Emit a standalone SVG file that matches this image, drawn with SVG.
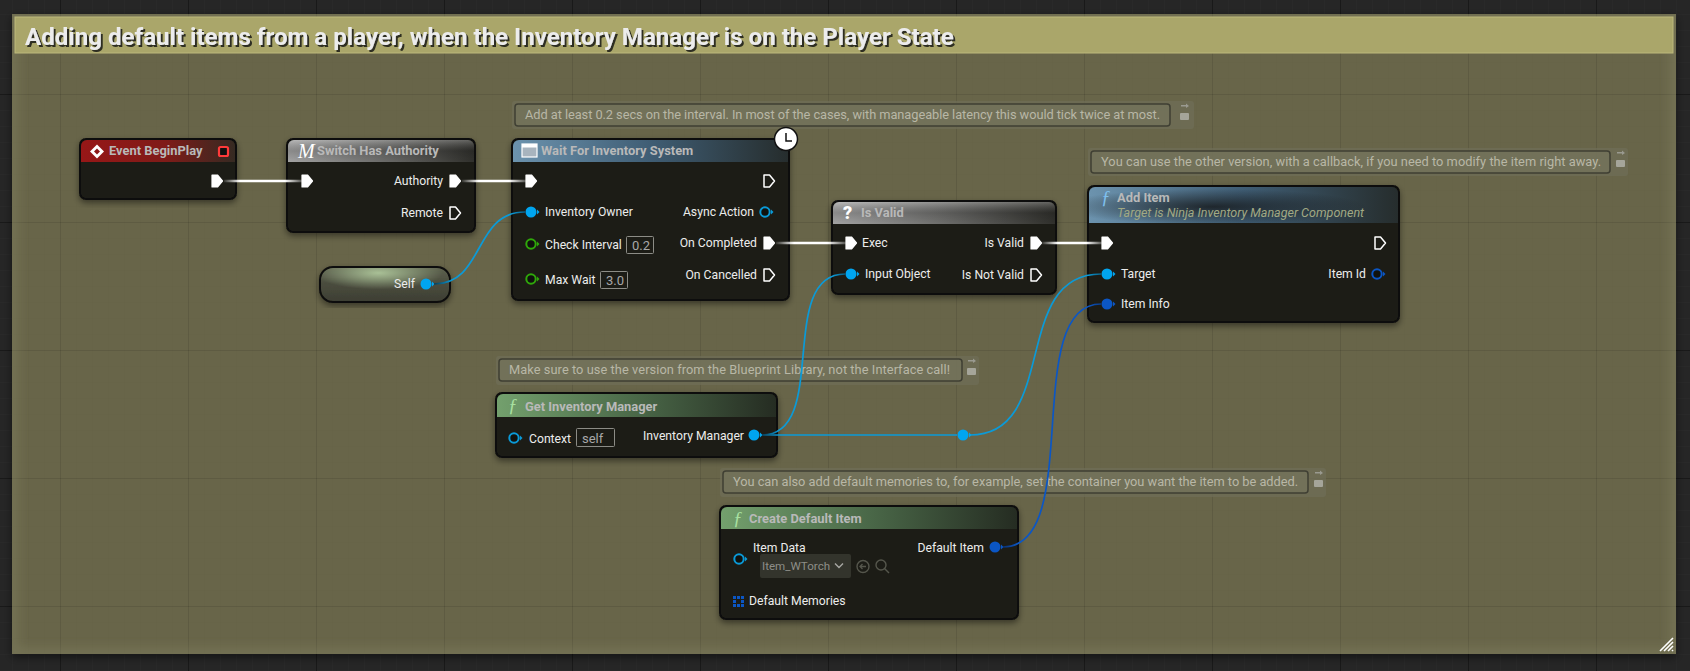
<svg xmlns="http://www.w3.org/2000/svg" width="1690" height="671" viewBox="0 0 1690 671">
<style>
text{font-family:Roboto,"Liberation Sans",sans-serif;font-size:12.2px;fill:#ececec}
.t{font-weight:700;font-size:12.9px;fill:#b9b9b9}
.r{text-anchor:end}
.c{font-size:12.8px;fill:#b8b7a6}
.v{font-size:13px;fill:#a8a8a8}
.f{font-family:"Liberation Serif",serif;font-style:italic;font-size:19px}
.body{fill:#1d1e18;stroke:#0c0c0a;stroke-width:2;filter:url(#sh)}
.hd{stroke:none}
.box{fill:none;stroke:#8c8c86;stroke-width:1}
.bub{fill:#77765e;fill-opacity:.55;stroke:#3f3f33;stroke-width:1.5}
.halo{fill:#6f6e58;fill-opacity:.7}
.w{fill:none;stroke-width:1.7}
.ew{fill:none;stroke-width:2.4}
.x{fill:#fff;stroke:#fff;stroke-width:1.2;stroke-linejoin:round}
.xo{fill:none;stroke:#fff;stroke-width:1.5;stroke-linejoin:round}
</style>
<defs>
<pattern id="minor" patternUnits="userSpaceOnUse" x="12" y="14" width="16" height="16"><path d="M0 0V16M0 0H16" stroke="#2b2b2b" fill="none"/></pattern>
<pattern id="major" patternUnits="userSpaceOnUse" x="60" y="94" width="128" height="128"><path d="M0.5 0V128M0 0.5H128" stroke="#191919" fill="none"/></pattern>
<pattern id="minorC" patternUnits="userSpaceOnUse" x="12" y="14" width="16" height="16"><path d="M0 0V16M0 0H16" stroke="#000" stroke-opacity=".02" fill="none"/></pattern>
<pattern id="majorC" patternUnits="userSpaceOnUse" x="60" y="94" width="128" height="128"><path d="M0.5 0V128M0 0.5H128" stroke="#000" stroke-opacity=".09" fill="none"/></pattern>
<filter id="sh" x="-10%" y="-10%" width="120%" height="125%"><feDropShadow dx="0" dy="3" stdDeviation="3" flood-color="#000" flood-opacity=".45"/></filter>
<filter id="csh" x="-2%" y="-3%" width="104%" height="106%"><feDropShadow dx="0" dy="3" stdDeviation="4" flood-color="#000" flood-opacity=".5"/></filter>
<filter id="ts" x="-2%" y="-20%" width="104%" height="150%"><feDropShadow dx="2" dy="2" stdDeviation=".4" flood-color="#2e2e22" flood-opacity="1"/></filter>
<filter id="bl" x="-5%" y="-5%" width="110%" height="110%"><feGaussianBlur stdDeviation="6"/></filter>
<clipPath id="cc"><rect x="12" y="14" width="1664" height="640"/></clipPath>
<linearGradient id="red" x1="0" x2="1" y1="0" y2="0"><stop offset="0" stop-color="#971717"/><stop offset=".55" stop-color="#7f1b18"/><stop offset="1" stop-color="#352a22"/></linearGradient>
<linearGradient id="gry" x1="0" x2="1" y1="0" y2="0"><stop offset="0" stop-color="#a3a3a3"/><stop offset=".5" stop-color="#6d6d6b"/><stop offset="1" stop-color="#30302c"/></linearGradient>
<linearGradient id="blu" x1="0" x2="1" y1="0" y2="0"><stop offset="0" stop-color="#6c93ae"/><stop offset=".5" stop-color="#3f5d74"/><stop offset="1" stop-color="#262d2d"/></linearGradient>
<linearGradient id="grn" x1="0" x2="1" y1="0" y2="0"><stop offset="0" stop-color="#73a06d"/><stop offset=".5" stop-color="#4a6848"/><stop offset="1" stop-color="#252c22"/></linearGradient>
<linearGradient id="top" x1="0" x2="0" y1="0" y2="1"><stop offset="0" stop-color="#fff" stop-opacity=".25"/><stop offset=".5" stop-color="#000" stop-opacity=".15"/><stop offset="1" stop-color="#000" stop-opacity="0"/></linearGradient>
<linearGradient id="selfg" x1="0" x2="0" y1="0" y2="1"><stop offset="0" stop-color="#5f6350"/><stop offset=".45" stop-color="#4b4d3e"/><stop offset="1" stop-color="#3d3e33"/></linearGradient>
<radialGradient id="selfh" cx=".45" cy=".15" r=".5"><stop offset="0" stop-color="#a9c096"/><stop offset="1" stop-color="#a9c096" stop-opacity="0"/></radialGradient>
<radialGradient id="dk" cx=".4" cy=".55" r=".5"><stop offset="0" stop-color="#111" stop-opacity=".75"/><stop offset="1" stop-color="#111" stop-opacity="0"/></radialGradient>
<linearGradient id="e1" gradientUnits="userSpaceOnUse" x1="224" x2="305" y1="0" y2="0"><stop offset="0" stop-color="#fff" stop-opacity=".1"/><stop offset=".2" stop-color="#fff"/><stop offset=".75" stop-color="#fff"/><stop offset="1" stop-color="#fff" stop-opacity=".1"/></linearGradient>
<linearGradient id="e2" gradientUnits="userSpaceOnUse" x1="462" x2="529" y1="0" y2="0"><stop offset="0" stop-color="#fff" stop-opacity=".1"/><stop offset=".25" stop-color="#fff"/><stop offset=".7" stop-color="#fff"/><stop offset="1" stop-color="#fff" stop-opacity=".1"/></linearGradient>
<linearGradient id="e3" gradientUnits="userSpaceOnUse" x1="776" x2="849" y1="0" y2="0"><stop offset="0" stop-color="#fff" stop-opacity=".1"/><stop offset=".25" stop-color="#fff"/><stop offset=".7" stop-color="#fff"/><stop offset="1" stop-color="#fff" stop-opacity=".1"/></linearGradient>
<linearGradient id="e4" gradientUnits="userSpaceOnUse" x1="1042" x2="1105" y1="0" y2="0"><stop offset="0" stop-color="#fff" stop-opacity=".1"/><stop offset=".25" stop-color="#fff"/><stop offset=".7" stop-color="#fff"/><stop offset="1" stop-color="#fff" stop-opacity=".1"/></linearGradient>
<linearGradient id="b1" gradientUnits="userSpaceOnUse" x1="434" x2="525" y1="0" y2="0"><stop offset="0" stop-color="#0a3d55"/><stop offset=".2" stop-color="#0a9ad8"/><stop offset=".85" stop-color="#0a9ad8"/><stop offset="1" stop-color="#0a5f85"/></linearGradient>
<linearGradient id="b2" gradientUnits="userSpaceOnUse" x1="762" x2="845" y1="0" y2="0"><stop offset="0" stop-color="#0a3d55"/><stop offset=".2" stop-color="#0a9ad8"/><stop offset=".85" stop-color="#0a9ad8"/><stop offset="1" stop-color="#0a5f85"/></linearGradient>
<linearGradient id="b3" gradientUnits="userSpaceOnUse" x1="762" x2="957" y1="0" y2="0"><stop offset="0" stop-color="#0a3d55"/><stop offset=".08" stop-color="#0a9ad8"/><stop offset="1" stop-color="#0a9ad8"/></linearGradient>
<linearGradient id="b4" gradientUnits="userSpaceOnUse" x1="970" x2="1101" y1="0" y2="0"><stop offset="0" stop-color="#0a9ad8"/><stop offset=".9" stop-color="#0a9ad8"/><stop offset="1" stop-color="#0a5f85"/></linearGradient>
<linearGradient id="d1" gradientUnits="userSpaceOnUse" x1="1003" x2="1101" y1="0" y2="0"><stop offset="0" stop-color="#0a3070"/><stop offset=".15" stop-color="#0b56c4"/><stop offset=".88" stop-color="#0b56c4"/><stop offset="1" stop-color="#0a3a85"/></linearGradient>
<g id="ex"><path class="x" d="M-5 -6H0.500L5.500 0L0.500 6H-5Z"/></g>
<g id="exo"><path class="xo" d="M-5 -6H0.500L5.500 0L0.500 6H-5Z"/></g>
<g id="pb"><circle r="5.500" fill="#00a5f0"/><path d="M6 -2.500L8.500 0L6 2.500Z" fill="#00a5f0"/></g>
<g id="pbo"><circle r="4.700" fill="#10120e" stroke="#0a9ad8" stroke-width="2"/><path d="M6 -2.500L8.500 0L6 2.500Z" fill="#0a9ad8"/></g>
<g id="pd"><circle r="5.500" fill="#0b56c4"/><path d="M6 -2.500L8.500 0L6 2.500Z" fill="#0b56c4"/></g>
<g id="pdo"><circle r="4.700" fill="#10120e" stroke="#0b56c4" stroke-width="2"/><path d="M6 -2.500L8.500 0L6 2.500Z" fill="#0b56c4"/></g>
<g id="pg"><circle r="4.700" fill="#10120e" stroke="#2fa80a" stroke-width="2"/><path d="M6 -2.500L8.500 0L6 2.500Z" fill="#2fa80a"/></g>
<g id="pinic"><path d="M-3 -4H2V-5.500L5 -3L2 -1V-2.500H-3Z" fill="#9a9a90"/><rect x="-4" y="4" width="9" height="7" rx="1" fill="#a5a59a"/></g>
</defs>

<rect width="1690" height="671" fill="#262626"/>
<rect width="1690" height="671" fill="url(#minor)"/>
<rect width="1690" height="671" fill="url(#major)"/>

<g id="comment-frame">
<rect x="12" y="14" width="1664" height="640" fill="#676549" filter="url(#csh)"/>
<rect x="12" y="14" width="1664" height="640" fill="url(#minorC)"/>
<rect x="12" y="14" width="1664" height="640" fill="url(#majorC)"/>
<g clip-path="url(#cc)"><rect x="12" y="14" width="1664" height="640" fill="none" stroke="#8a8a68" stroke-opacity=".45" stroke-width="10" filter="url(#bl)"/></g>
<rect x="15" y="17" width="1658" height="36" fill="#aaa66a" stroke="#bdb97c" stroke-width="1"/>
<text x="25" y="45" filter="url(#ts)" style="font-size:24.1px;font-weight:700;fill:#ececec">Adding default items from a player, when the Inventory Manager is on the Player State</text>
<path d="M1660 651L1673 638M1664 651L1673 642M1668 651L1673 646M1672 651L1673 650" stroke="#fff" stroke-width="1.600" fill="none"/>
</g>

<g id="bubble-1">
<rect class="halo" x="512" y="101" width="682" height="28" rx="3"/>
<rect class="bub" x="515" y="104" width="655" height="22" rx="3"/>
<text class="c" x="525" y="119" textLength="635">Add at least 0.2 secs on the interval. In most of the cases, with manageable latency this would tick twice at most.</text>
<use href="#pinic" x="1184" y="109"/>
</g>
<g id="bubble-2">
<rect class="halo" x="1088" y="148" width="540" height="28" rx="3"/>
<rect class="bub" x="1091" y="151" width="519" height="22" rx="3"/>
<text class="c" x="1101" y="166" textLength="500">You can use the other version, with a callback, if you need to modify the item right away.</text>
<use href="#pinic" x="1620" y="156"/>
</g>
<g id="bubble-3">
<rect class="halo" x="496" y="356" width="483" height="29" rx="3"/>
<rect class="bub" x="499" y="359" width="463" height="22" rx="3"/>
<text class="c" x="509" y="374" textLength="441">Make sure to use the version from the Blueprint Library, not the Interface call!</text>
<use href="#pinic" x="971" y="364"/>
</g>
<g id="bubble-4">
<rect class="halo" x="720" y="468" width="606" height="29" rx="3"/>
<rect class="bub" x="723" y="471" width="585" height="22" rx="3"/>
<text class="c" x="733" y="486" textLength="565">You can also add default memories to, for example, set the container you want the item to be added.</text>
<use href="#pinic" x="1318" y="476"/>
</g>

<g id="node-event">
<rect class="body" x="80" y="139" width="156" height="60" rx="6"/>
<path class="hd" d="M81 162V146a6 6 0 0 1 6-6H229a6 6 0 0 1 6 6V162Z" fill="url(#red)"/>
<path d="M97 144.500L104 151.500L97 158.500L90 151.500Z" fill="#fff"/>
<path d="M97 148.500L100 151.500L97 154.500L94 151.500Z" fill="#8c1717"/>
<text class="t" x="109" y="155">Event BeginPlay</text>
<rect x="219" y="147" width="9" height="9" rx="1.500" fill="#111" stroke="#ff3a3a" stroke-width="2.200"/>
<use href="#ex" x="217" y="181"/>
</g>

<g id="node-switch">
<rect class="body" x="287" y="139" width="188" height="93" rx="6"/>
<path class="hd" d="M288 162V146a6 6 0 0 1 6-6H468a6 6 0 0 1 6 6V162Z" fill="url(#gry)"/>
<path class="hd" d="M288 162V146a6 6 0 0 1 6-6H468a6 6 0 0 1 6 6V162Z" fill="url(#top)"/>
<text class="f" x="298" y="158" style="font-size:20px;fill:#fff">M</text>
<text class="t" x="317" y="155">Switch Has Authority</text>
<use href="#ex" x="307" y="181"/>
<text class="r" x="443" y="185">Authority</text>
<use href="#ex" x="455" y="181"/>
<text class="r" x="443" y="217">Remote</text>
<use href="#exo" x="455" y="213"/>
</g>

<g id="node-self">
<rect x="320" y="267" width="130" height="35" rx="13" fill="url(#selfg)" stroke="#0c0c0a" stroke-width="2" filter="url(#sh)"/>
<rect x="321" y="268" width="128" height="33" rx="12" fill="url(#selfh)"/>
<text class="r" x="415" y="288">Self</text>
<use href="#pb" x="426" y="284"/>
</g>

<g id="node-wait">
<rect class="body" x="512" y="139" width="277" height="161" rx="6"/>
<path class="hd" d="M513 162V146a6 6 0 0 1 6-6H782a6 6 0 0 1 6 6V162Z" fill="url(#blu)"/>
<rect x="522" y="144" width="15" height="13" fill="#a8b4be" stroke="#fff" stroke-width="1.200"/>
<rect x="522" y="144" width="15" height="3.500" fill="#fff"/>
<text class="t" x="541" y="155">Wait For Inventory System</text>
<circle cx="786" cy="139" r="11.500" fill="#fff" stroke="#111" stroke-width="1.500"/>
<path d="M786 133V141H792" fill="none" stroke="#111" stroke-width="1.500"/>
<use href="#ex" x="531" y="181"/>
<use href="#exo" x="769" y="181"/>
<use href="#pb" x="531" y="212"/>
<text x="545" y="216">Inventory Owner</text>
<use href="#pg" x="531" y="244"/>
<text x="545" y="249">Check Interval</text>
<rect class="box" x="626.500" y="236.500" width="27" height="17" rx="1"/>
<text class="v" x="632" y="250">0.2</text>
<use href="#pg" x="531" y="279"/>
<text x="545" y="284">Max Wait</text>
<rect class="box" x="600.500" y="271.500" width="27" height="17" rx="1"/>
<text class="v" x="606" y="285">3.0</text>
<text class="r" x="754" y="216">Async Action</text>
<use href="#pbo" x="765" y="212"/>
<text class="r" x="757" y="247">On Completed</text>
<use href="#ex" x="769" y="243"/>
<text class="r" x="757" y="279">On Cancelled</text>
<use href="#exo" x="769" y="275"/>
</g>

<g id="node-isvalid">
<rect class="body" x="832" y="201" width="224" height="93" rx="6"/>
<path class="hd" d="M833 224V208a6 6 0 0 1 6-6H1049a6 6 0 0 1 6 6V224Z" fill="url(#gry)"/>
<path class="hd" d="M833 224V208a6 6 0 0 1 6-6H1049a6 6 0 0 1 6 6V224Z" fill="url(#top)"/>
<text x="843" y="219" style="font-size:18px;font-weight:900;fill:#fff">?</text>
<text class="t" x="861" y="217">Is Valid</text>
<use href="#ex" x="851" y="243"/>
<text x="862" y="247">Exec</text>
<use href="#pb" x="851" y="274"/>
<text x="865" y="278">Input Object</text>
<text class="r" x="1024" y="247">Is Valid</text>
<use href="#ex" x="1036" y="243"/>
<text class="r" x="1024" y="279">Is Not Valid</text>
<use href="#exo" x="1036" y="275"/>
</g>

<g id="node-additem">
<rect class="body" x="1088" y="186" width="311" height="136" rx="6"/>
<path class="hd" d="M1089 223V193a6 6 0 0 1 6-6H1392a6 6 0 0 1 6 6V223Z" fill="url(#blu)"/>
<path class="hd" d="M1089 223V193a6 6 0 0 1 6-6H1392a6 6 0 0 1 6 6V223Z" fill="url(#dk)"/>
<text class="f" x="1101" y="204" style="fill:#7fc0ee">ƒ</text>
<text class="t" x="1117" y="202">Add Item</text>
<text x="1117" y="217" style="font-style:italic;font-size:12.5px;fill:#a1a984">Target is Ninja Inventory Manager Component</text>
<use href="#ex" x="1107" y="243"/>
<use href="#exo" x="1380" y="243"/>
<use href="#pb" x="1107" y="274"/>
<text x="1121" y="278">Target</text>
<use href="#pd" x="1107" y="304"/>
<text x="1121" y="308">Item Info</text>
<text class="r" x="1366" y="278">Item Id</text>
<use href="#pdo" x="1377" y="274"/>
</g>

<g id="node-getinv">
<rect class="body" x="496" y="393" width="281" height="64" rx="6"/>
<path class="hd" d="M497 417V400a6 6 0 0 1 6-6H770a6 6 0 0 1 6 6V417Z" fill="url(#grn)"/>
<text class="f" x="508" y="412" style="fill:#a8e0a0">ƒ</text>
<text class="t" x="525" y="411">Get Inventory Manager</text>
<use href="#pbo" x="514" y="438"/>
<text x="529" y="443">Context</text>
<rect class="box" x="576.500" y="428.500" width="38" height="18" rx="1"/>
<text class="v" x="582" y="443">self</text>
<text class="r" x="744" y="440">Inventory Manager</text>
<use href="#pb" x="754" y="435"/>
</g>

<g id="node-create">
<rect class="body" x="720" y="506" width="298" height="113" rx="6"/>
<path class="hd" d="M721 529V513a6 6 0 0 1 6-6H1011a6 6 0 0 1 6 6V529Z" fill="url(#grn)"/>
<text class="f" x="733" y="525" style="fill:#a8e0a0">ƒ</text>
<text class="t" x="749" y="523">Create Default Item</text>
<use href="#pbo" x="739" y="559"/>
<text x="753" y="552">Item Data</text>
<rect x="760" y="554" width="91" height="24" rx="2" fill="#33342c"/>
<text x="762" y="570" style="font-size:11.6px;fill:#8e8e88">Item_WTorch</text>
<path d="M835 563.500L839 567.500L843 563.500" fill="none" stroke="#a8a8a4" stroke-width="1.400"/>
<circle cx="863" cy="566.500" r="6" fill="none" stroke="#55564c" stroke-width="1.400"/>
<path d="M866 566.500H860M862.500 564L860 566.500L862.500 569" fill="none" stroke="#55564c" stroke-width="1.300"/>
<circle cx="881" cy="565" r="5" fill="none" stroke="#55564c" stroke-width="1.400"/>
<path d="M884.500 568.500L889 573" stroke="#55564c" stroke-width="1.400"/>
<text class="r" x="984" y="552">Default Item</text>
<use href="#pd" x="995" y="547"/>
<path d="M733 596h3v3h-3zM737 596h3v3h-3zM741 596h3v3h-3zM733 600h3v3h-3zM741 600h3v3h-3zM733 604h3v3h-3zM737 604h3v3h-3zM741 604h3v3h-3z" fill="#0b56c4"/>
<text x="749" y="605">Default Memories</text>
</g>

<g id="connectors">
<path class="ew" stroke="url(#e1)" d="M224 181H305"/>
<path class="ew" stroke="url(#e2)" d="M462 181H529"/>
<path class="ew" stroke="url(#e3)" d="M776 243H849"/>
<path class="ew" stroke="url(#e4)" d="M1042 243H1105"/>
<path class="w" stroke="url(#b1)" d="M434 284C485 284 473 212 525 212"/>
<path class="w" stroke="url(#b2)" d="M762 435C830 435 776 274 845 274"/>
<path class="w" stroke="url(#b3)" d="M762 435H957"/>
<path class="w" stroke="url(#b4)" d="M970 435C1060 435 1010 274 1101 274"/>
<path class="w" stroke="url(#d1)" d="M1003 547C1085 547 1020 304 1101 304"/>
<g id="knot"><circle cx="963" cy="435" r="5.500" fill="#00a5f0"/><path d="M969 432.500L971.500 435L969 437.500Z" fill="#00a5f0"/></g>
</g>
</svg>
